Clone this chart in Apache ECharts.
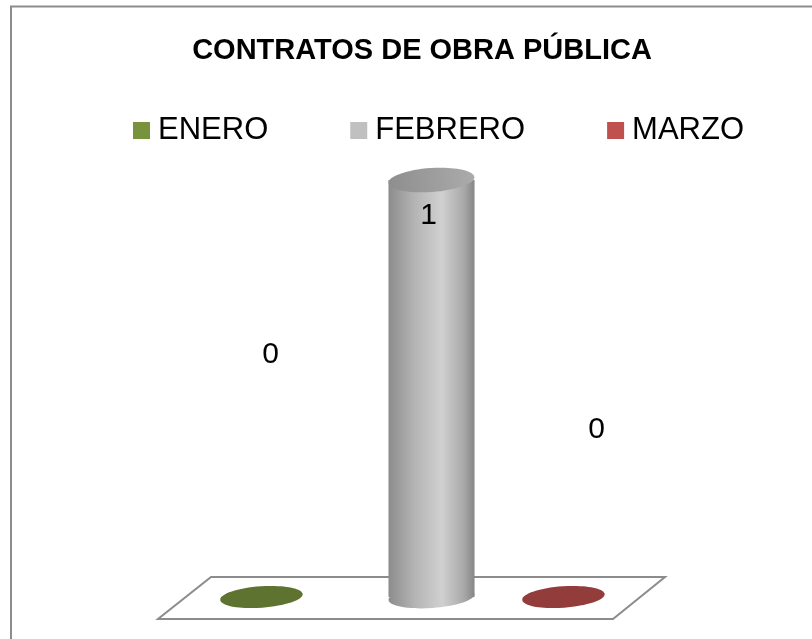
<!DOCTYPE html>
<html>
<head>
<meta charset="utf-8">
<script src="https://cdn.jsdelivr.net/npm/echarts@6/dist/echarts.min.js"></script>
<style>
  html, body { margin: 0; padding: 0; background: #fff; }
  #chart { width: 812px; height: 639px; }
</style>
</head>
<body>
<div id="chart"></div>
<script>
// datos
var months = ['ENERO', 'FEBRERO', 'MARZO'];
var contratos = [0, 1, 0];

// estilo
var sideColors = ['#77933c', '#c0c0c0', '#c0504d'];
var capColors = ['#5e7330', '#9e9e9e', '#933c3c'];
var markShift = [0, 19, 0];            // desplazamiento de perspectiva
var labelShift = [[9, -242], [-3, 36], [33, -167]];

var myChart = echarts.init(document.getElementById('chart'));

function renderCylinder(i) {
  return function (params, api) {
    var idx = api.value(0);
    var val = api.value(1);
    var base = api.coord([idx, 0]);
    var top = api.coord([idx, val]);
    var band = api.size([1, 0])[0];
    var rx = band * 0.285;
    var ry = 11;
    var cx = base[0] + markShift[i];
    var tilt = 0.07;
    var children = [];
    var lbl = val > 0 ? [cx + labelShift[i][0], top[1] + labelShift[i][1]]
                      : [cx + labelShift[i][0], base[1] + labelShift[i][1]];
    if (val > 0) {
      var body = new echarts.graphic.LinearGradient(0, 0, 1, 0, [
        {offset: 0, color: '#8c8c8c'},
        {offset: 0.3, color: '#b4b4b4'},
        {offset: 0.62, color: '#d0d0d0'},
        {offset: 0.88, color: '#a8a8a8'},
        {offset: 1, color: '#858585'}
      ]);
      children.push({
        type: 'ellipse', x: cx, y: base[1], rotation: tilt,
        shape: {cx: 0, cy: 0, rx: rx, ry: ry},
        style: {fill: body}
      });
      children.push({
        type: 'rect',
        shape: {x: cx - rx, y: top[1], width: rx * 2, height: base[1] - top[1]},
        style: {fill: body}
      });
      children.push({
        type: 'ellipse', x: cx, y: top[1], rotation: tilt,
        shape: {cx: 0, cy: 0, rx: rx, ry: ry + 1},
        style: {
          fill: new echarts.graphic.LinearGradient(0, 0, 1, 0, [
            {offset: 0, color: '#8e8e8e'},
            {offset: 1, color: '#ababab'}
          ])
        }
      });
    } else {
      children.push({
        type: 'ellipse', x: cx, y: base[1], rotation: tilt,
        shape: {cx: 0, cy: 0, rx: rx * 0.96, ry: ry - 0.3},
        style: {fill: capColors[i]}
      });
    }
    children.push({
      type: 'text',
      style: {
        text: String(val), x: lbl[0], y: lbl[1],
        fill: '#000', font: '30px "Liberation Sans", Arial, sans-serif',
        align: 'center', verticalAlign: 'middle'
      }
    });
    return {type: 'group', children: children};
  };
}

var series = months.map(function (m, i) {
  return {
    name: m,
    type: 'custom',
    renderItem: renderCylinder(i),
    itemStyle: {color: sideColors[i]},
    data: [[i, contratos[i]]],
    z: 3
  };
});

var option = {
  backgroundColor: '#fff',
  animation: false,
  title: {
    text: 'CONTRATOS DE OBRA PÚBLICA',
    left: 417,
    top: 31,
    textAlign: 'center',
    textStyle: {
      fontFamily: '"Liberation Sans", Arial, sans-serif',
      fontWeight: 'bold',
      fontSize: 29,
      color: '#000'
    }
  },
  legend: {
    data: months,
    left: 128,
    top: 110,
    icon: 'rect',
    itemWidth: 17,
    itemHeight: 17,
    itemGap: 82,
    textStyle: {
      fontFamily: '"Liberation Sans", Arial, sans-serif',
      fontSize: 31,
      color: '#000',
      padding: [0, 0, 0, 3]
    }
  },
  grid: {left: 186, right: 812 - 186 - 453, top: 180, bottom: 639 - 597},
  xAxis: {
    type: 'category',
    data: months,
    show: false
  },
  yAxis: {
    type: 'value',
    min: 0,
    max: 1,
    show: false
  },
  graphic: [
    {
      type: 'rect', z: -10,
      shape: {x: 11, y: 6.5, width: 900, height: 900},
      style: {fill: '#fff', stroke: '#8c8c8c', lineWidth: 2}
    },
    {
      type: 'polygon', z: 1,
      shape: {points: [[211, 577], [665, 577], [613, 619], [158, 619]]},
      style: {fill: '#fff', stroke: '#8c8c8c', lineWidth: 2}
    }
  ],
  series: series
};
myChart.setOption(option);
</script>
</body>
</html>
